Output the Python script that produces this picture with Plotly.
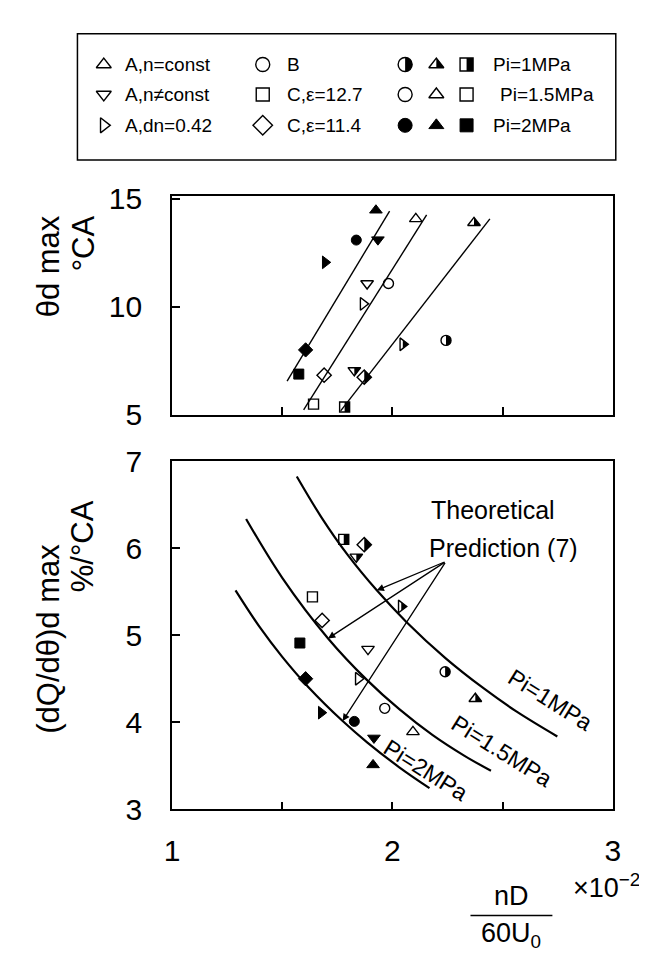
import plotly.graph_objects as go

W, H = 647, 964

# ---------------- data ----------------
series_names = ["A,n=const", "A,n≠const", "A,dn=0.42", "B", "C,ε=12.7", "C,ε=11.4"]
pressures = [1, 1.5, 2]  # Pi, MPa

# upper panel: theta_d max (deg CA) vs nD/60U0 (x10^-2)
top_series = ["A,n=const", "B", "A,n≠const", "A,dn=0.42", "A,n=const", "A,n=const",
              "A,n≠const", "B", "A,dn=0.42", "A,dn=0.42", "B", "C,ε=11.4",
              "C,ε=12.7", "C,ε=11.4", "A,n≠const", "C,ε=11.4", "C,ε=12.7", "C,ε=12.7"]
top_pi = [2, 2, 2, 2, 1.5, 1, 1.5, 1.5, 1.5, 1, 1, 2, 2, 1.5, 1, 1, 1.5, 1]
top_x = [1.925, 1.836, 1.934, 1.695, 2.106, 2.370, 1.885, 1.982, 1.867, 2.047, 2.243, 1.606,
         1.575, 1.690, 1.827, 1.872, 1.642, 1.783]
top_y = [14.46, 13.08, 13.10, 12.05, 14.06, 13.88, 11.07, 11.07, 10.13, 8.26, 8.44, 8.00,
         6.88, 6.83, 7.05, 6.74, 5.49, 5.36]

# straight fitted lines in upper panel
fit_pi = [2, 1.5, 1]
fit_x = [[1.522, 1.987], [1.597, 2.155], [1.765, 2.442]]
fit_y = [[6.56, 14.42], [5.22, 14.24], [5.18, 14.06]]

# lower panel: (dQ/dtheta)d max (%/deg CA)
bot_series = ["C,ε=12.7", "C,ε=11.4", "A,n≠const", "C,ε=12.7", "C,ε=11.4", "A,dn=0.42",
              "A,n≠const", "C,ε=12.7", "C,ε=11.4", "A,dn=0.42", "A,dn=0.42", "B",
              "B", "A,n=const", "A,n≠const", "A,n=const", "B", "A,n=const"]
bot_pi = [1, 1, 1, 1.5, 1.5, 1, 1.5, 2, 2, 1.5, 2, 1.5, 2, 1.5, 2, 2, 1, 1]
bot_x = [1.779, 1.872, 1.836, 1.637, 1.681, 2.040, 1.889, 1.580, 1.606, 1.845, 1.677, 1.965,
         1.827, 2.093, 1.916, 1.912, 2.239, 2.376]
bot_y = [6.10, 6.04, 5.90, 5.44, 5.17, 5.33, 4.84, 4.91, 4.50, 4.50, 4.11, 4.16,
         4.01, 3.89, 3.82, 3.51, 4.58, 4.27]

# theoretical prediction (7) curves
theory_pi = [1, 1.5, 2]
theory_x = [[1.566, 1.677, 1.796, 1.929, 2.062, 2.239, 2.416, 2.562, 2.748],
            [1.336, 1.500, 1.708, 1.885, 2.031, 2.181, 2.327, 2.447],
            [1.288, 1.398, 1.500, 1.619, 1.774, 1.885, 2.031, 2.168]]
theory_y = [[6.823, 6.357, 5.925, 5.515, 5.155, 4.740, 4.385, 4.125, 3.837],
            [6.335, 5.659, 4.963, 4.484, 4.150, 3.855, 3.614, 3.443],
            [5.515, 5.092, 4.751, 4.403, 4.014, 3.770, 3.483, 3.244]]
theory_label = ["Pi=1MPa", "Pi=1.5MPa", "Pi=2MPa"]
theory_label_x = [2.717, 2.496, 2.150]
theory_label_y = [4.252, 3.665, 3.454]

arrow_from_x, arrow_from_y = 2.243, 5.848
arrow_to_x = [1.929, 1.708, 1.774]
arrow_to_y = [5.515, 4.963, 4.014]

# ---------------- styling helpers ----------------
FONT = "Liberation Sans, Arial, Helvetica, sans-serif"
SYM = {"A,n=const": "triangle-up", "A,n≠const": "triangle-down", "A,dn=0.42": "triangle-right",
       "B": "circle", "C,ε=12.7": "square", "C,ε=11.4": "diamond"}
MSIZE = {"triangle-up": 11, "triangle-down": 11, "triangle-right": 11,
         "circle": 10, "square": 10, "diamond": 11}


def half_path(sym, size):
    r = size / 2.0
    rt = r * 2 / 3 ** 0.5
    if sym == "circle":
        k = 0.5523 * r
        return f"M0,{r} C{k},{r} {r},{k} {r},0 C{r},{-k} {k},{-r} 0,{-r} Z"
    if sym == "square":
        return f"M0,{-r} L{r},{-r} L{r},{r} L0,{r} Z"
    if sym == "diamond":
        rd = 1.3 * r
        return f"M0,{rd} L{rd},0 L0,{-rd} Z"
    if sym == "triangle-up":
        return f"M0,{r} L{rt},{-r / 2} L0,{-r / 2} Z"
    if sym == "triangle-down":
        return f"M0,{-r} L{rt},{r / 2} L0,{r / 2} Z"
    if sym == "triangle-right":
        return f"M0,{2 * rt / 3} L{r},0 L0,{-2 * rt / 3} Z"


fig = go.Figure()
shapes = []


def add_points(xs, ys, sers, pis, xa, ya, sizes=MSIZE):
    for s in series_names:
        sym = SYM[s]
        for p in pressures:
            px = [x for x, ss, pp in zip(xs, sers, pis) if ss == s and pp == p]
            py = [y for y, ss, pp in zip(ys, sers, pis) if ss == s and pp == p]
            if not px:
                continue
            if p == 2:
                marker = dict(symbol=sym, size=sizes[sym], color="black",
                              line=dict(color="black", width=1))
            else:
                marker = dict(symbol=sym + "-open", size=sizes[sym], color="black",
                              line=dict(color="black", width=1.4))
            fig.add_trace(go.Scatter(x=px, y=py, mode="markers", marker=marker,
                                     xaxis=xa, yaxis=ya, showlegend=False, hoverinfo="skip"))
            if p == 1:
                for x, y in zip(px, py):
                    shapes.append(dict(type="path", xref=xa, yref=ya,
                                       xsizemode="pixel", ysizemode="pixel",
                                       xanchor=x, yanchor=y,
                                       path=half_path(sym, sizes[sym]),
                                       fillcolor="black", line=dict(width=0), layer="above"))


# ---------------- legend (drawn on a hidden pixel-scaled axis) ----------------
LEG_SIZE = {"triangle-up": 13, "triangle-down": 13, "triangle-right": 13,
            "circle": 14, "square": 13, "diamond": 15}
leg_rows = [41, 72, 104]
leg_col1 = ["A,n=const", "A,n≠const", "A,dn=0.42"]
leg_col2 = ["B", "C,ε=12.7", "C,ε=11.4"]
leg_pi_rows = [1, 1.5, 2]
leg_x, leg_y, leg_s, leg_p = [], [], [], []
for i, s in enumerate(leg_col1):
    leg_x.append(90); leg_y.append(leg_rows[i]); leg_s.append(s); leg_p.append(1.5)
for i, s in enumerate(leg_col2):
    leg_x.append(253); leg_y.append(leg_rows[i]); leg_s.append(s); leg_p.append(1.5)
for i, p in enumerate(leg_pi_rows):
    for xx, s in zip([399, 431, 462], ["B", "A,n=const", "C,ε=12.7"]):
        leg_x.append(xx); leg_y.append(leg_rows[i]); leg_s.append(s); leg_p.append(p)
add_points(leg_x, leg_y, leg_s, leg_p, "x3", "y3", sizes=LEG_SIZE)

# upper panel
for xs, ys in zip(fit_x, fit_y):
    fig.add_trace(go.Scatter(x=xs, y=ys, mode="lines", line=dict(color="black", width=1.4),
                             xaxis="x", yaxis="y", showlegend=False, hoverinfo="skip"))
add_points(top_x, top_y, top_series, top_pi, "x", "y")

# lower panel
for xs, ys in zip(theory_x, theory_y):
    fig.add_trace(go.Scatter(x=xs, y=ys, mode="lines",
                             line=dict(color="black", width=2.2, shape="spline", smoothing=1.0),
                             xaxis="x2", yaxis="y2", showlegend=False, hoverinfo="skip"))
add_points(bot_x, bot_y, bot_series, bot_pi, "x2", "y2")

annotations = []
LF = dict(family=FONT, size=19, color="black")
for i, s in enumerate(leg_col1):
    annotations.append(dict(x=110, y=leg_rows[i], xref="x3", yref="y3", text=s, showarrow=False,
                            xanchor="left", yanchor="middle", font=LF))
for i, s in enumerate(leg_col2):
    annotations.append(dict(x=276, y=leg_rows[i], xref="x3", yref="y3", text=s, showarrow=False,
                            xanchor="left", yanchor="middle", font=LF))
for i, p in enumerate(leg_pi_rows):
    annotations.append(dict(x=487 if p != 1.5 else 494, y=leg_rows[i], xref="x3", yref="y3",
                            text=f"Pi={p:g}MPa", showarrow=False,
                            xanchor="left", yanchor="middle", font=LF))
shapes.append(dict(type="rect", xref="x3", yref="y3", x0=63, x1=615, y0=9, y1=140,
                   line=dict(color="black", width=1.5), layer="below"))

# ---------------- text in lower panel ----------------
TF = dict(family=FONT, size=23, color="black")
for t, x, y in zip(theory_label, theory_label_x, theory_label_y):
    annotations.append(dict(x=x, y=y, xref="x2", yref="y2", text=t, showarrow=False,
                            textangle=32, font=TF))
annotations.append(dict(x=2.164, y=6.435, xref="x2", yref="y2", text="Theoretical",
                        xanchor="left", showarrow=False, font=dict(family=FONT, size=25, color="black")))
annotations.append(dict(x=2.158, y=6.0, xref="x2", yref="y2", text="Prediction (7)",
                        xanchor="left", showarrow=False, font=dict(family=FONT, size=25, color="black")))
for tx, ty in zip(arrow_to_x, arrow_to_y):
    annotations.append(dict(x=tx, y=ty, xref="x2", yref="y2", ax=arrow_from_x, ay=arrow_from_y,
                            axref="x2", ayref="y2", text="", showarrow=True,
                            arrowhead=2, arrowsize=1.1, arrowwidth=1.3, arrowcolor="black"))

# ---------------- axis titles ----------------
BIG = dict(family=FONT, size=31, color="black")
annotations += [
    dict(x=33, y=250, xref="x3", yref="y3", text="θd max", textangle=-90, showarrow=False, font=BIG),
    dict(x=69, y=226, xref="x3", yref="y3", text="°CA", textangle=-90, showarrow=False, font=BIG),
    dict(x=33, y=636, xref="x3", yref="y3", text="(dQ/dθ)d max", textangle=-90, showarrow=False, font=BIG),
    dict(x=69, y=540, xref="x3", yref="y3", text="%/°CA", textangle=-90, showarrow=False, font=BIG),
    dict(x=642, y=892, xref="x3", yref="y3", text="×10<sup>−2</sup>", showarrow=False,
         xanchor="right", font=dict(family=FONT, size=27, color="black")),
    dict(x=508, y=903, xref="x3", yref="y3", text="nD", showarrow=False,
         font=dict(family=FONT, size=27, color="black")),
    dict(x=508, y=943, xref="x3", yref="y3", text="60U<sub>0</sub>", showarrow=False,
         font=dict(family=FONT, size=27, color="black")),
]
shapes.append(dict(type="line", xref="x3", yref="y3", x0=466, x1=550, y0=923, y1=923,
                   line=dict(color="black", width=1.4)))

# ---------------- layout ----------------
xdom = [160 / W, 612 / W]
ax_common = dict(showline=True, mirror=True, linecolor="black", linewidth=1.6,
                 ticks="inside", ticklen=8, tickwidth=1.5, tickcolor="black",
                 showgrid=False, zeroline=False,
                 tickfont=dict(family=FONT, size=30, color="black"))

fig.update_layout(
    width=W, height=H, margin=dict(l=0, r=0, t=0, b=0),
    paper_bgcolor="white", plot_bgcolor="rgba(0,0,0,0)", showlegend=False,
    xaxis3=dict(domain=[0, 1], range=[0, W], visible=False, anchor="y3"),
    yaxis3=dict(domain=[0, 1], range=[H, 0], visible=False, anchor="x3"),
    xaxis=dict(domain=xdom, range=[1, 3], anchor="y", tickvals=[1.5, 2, 2.5],
               showticklabels=False, **ax_common),
    yaxis=dict(domain=[1 - 404 / H, 1 - 177 / H], range=[5, 15.13], anchor="x",
               tickvals=[5, 10, 15], ticklabelstandoff=22, **ax_common),
    xaxis2=dict(domain=xdom, range=[1, 3], anchor="y2", tickvals=[1, 1.5, 2, 2.5, 3],
                ticktext=["1", "", "2", "", "3"], ticklabelstandoff=14, **ax_common),
    yaxis2=dict(domain=[1 - 813 / H, 1 - 452 / H], range=[3, 7], anchor="x2",
                tickvals=[3, 4, 5, 6, 7], ticklabelstandoff=22, **ax_common),
    shapes=shapes, annotations=annotations,
)

fig.write_html("out.html")
